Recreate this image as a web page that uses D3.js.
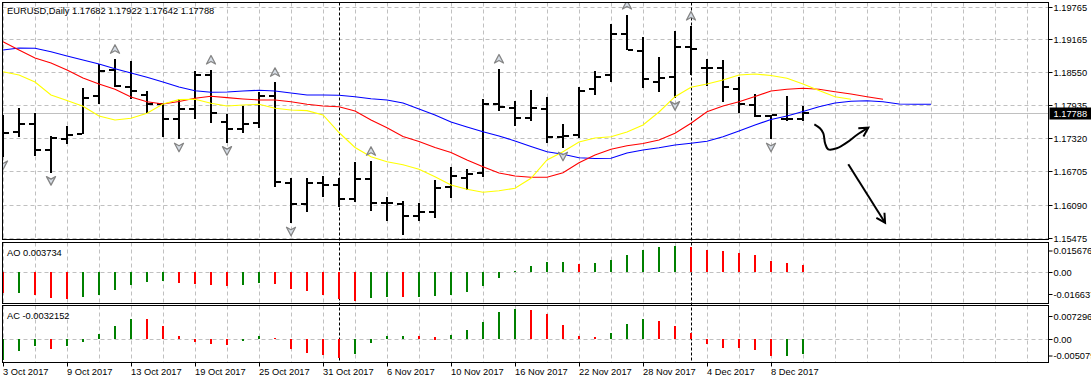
<!DOCTYPE html>
<html><head><meta charset="utf-8">
<script src="https://cdn.jsdelivr.net/npm/d3@7"></script>
<style>body{margin:0;background:#fff;overflow:hidden}svg{display:block}</style>
</head><body>
<svg id="c" width="1091" height="383"></svg>
<script>
// ---------------- DATA ----------------
const symbolTitle = "EURUSD,Daily";
const dates = ["3 Oct 2017","4 Oct 2017","5 Oct 2017","6 Oct 2017","9 Oct 2017","10 Oct 2017","11 Oct 2017","12 Oct 2017","13 Oct 2017","16 Oct 2017",
"17 Oct 2017","18 Oct 2017","19 Oct 2017","20 Oct 2017","23 Oct 2017","24 Oct 2017","25 Oct 2017","26 Oct 2017","27 Oct 2017","30 Oct 2017",
"31 Oct 2017","1 Nov 2017","2 Nov 2017","3 Nov 2017","6 Nov 2017","7 Nov 2017","8 Nov 2017","9 Nov 2017","10 Nov 2017","13 Nov 2017",
"14 Nov 2017","15 Nov 2017","16 Nov 2017","17 Nov 2017","20 Nov 2017","21 Nov 2017","22 Nov 2017","23 Nov 2017","24 Nov 2017","27 Nov 2017",
"28 Nov 2017","29 Nov 2017","30 Nov 2017","1 Dec 2017","4 Dec 2017","5 Dec 2017","6 Dec 2017","7 Dec 2017","8 Dec 2017","11 Dec 2017",
"12 Dec 2017"];
const open = [1.17475,1.17432,1.17580,1.17104,1.17302,1.17406,1.18100,1.18587,1.18278,1.18118,
1.17951,1.17673,1.17870,1.18500,1.17629,1.17499,1.17610,1.18111,1.16492,1.16108,
1.16492,1.16449,1.16200,1.16566,1.16126,1.16097,1.15880,1.15959,1.16418,1.16579,
1.16683,1.17962,1.17888,1.17703,1.17859,1.17350,1.17382,1.18229,1.18500,1.19261,
1.18945,1.18370,1.18463,1.19020,1.18630,1.18630,1.18241,1.17944,1.17729,1.17673,
1.17682];
const high = [1.17753,1.17877,1.17784,1.17363,1.17554,1.18248,1.18693,1.18786,1.18749,1.18203,
1.17981,1.18044,1.18569,1.18587,1.17766,1.17920,1.18174,1.18359,1.16579,1.16579,
1.16622,1.16590,1.16876,1.16894,1.16238,1.16152,1.16115,1.16547,1.16794,1.16751,
1.18050,1.18606,1.18012,1.18216,1.18081,1.17586,1.18267,1.18569,1.19441,1.19607,
1.19194,1.18823,1.19311,1.19403,1.18786,1.18767,1.18463,1.18137,1.17753,1.18111,
1.17922];
const low = [1.16974,1.17350,1.16998,1.16683,1.17209,1.17395,1.17951,1.18267,1.18044,1.17795,
1.17350,1.17302,1.17673,1.17610,1.17239,1.17425,1.17517,1.16412,1.15744,1.15948,
1.16238,1.16052,1.16139,1.15978,1.15793,1.15527,1.15793,1.15848,1.16219,1.16362,
1.16609,1.17833,1.17554,1.17647,1.17228,1.17135,1.17321,1.18124,1.18370,1.18958,
1.18259,1.18174,1.18074,1.18495,1.18291,1.17999,1.17795,1.17710,1.17302,1.17647,
1.17642];
const close = [1.17419,1.17580,1.17104,1.17326,1.17387,1.18074,1.18569,1.18285,1.18203,1.17957,
1.17673,1.17870,1.18495,1.17795,1.17499,1.17592,1.18111,1.16510,1.16108,1.16492,
1.16449,1.16200,1.16566,1.16115,1.16115,1.15880,1.15959,1.16404,1.16627,1.16664,
1.17962,1.17901,1.17703,1.17888,1.17339,1.17363,1.18203,1.18458,1.19261,1.18964,
1.18426,1.18445,1.19020,1.18977,1.18630,1.18267,1.17957,1.17734,1.17747,1.17673,
1.17788];
// Alligator lines (shifted forward beyond the last bar)
const jaw = [1.18958,1.18995,1.18990,1.18927,1.18847,1.18773,1.18699,1.18612,1.18532,1.18452,
1.18365,1.18272,1.18203,1.18174,1.18179,1.18198,1.18211,1.18198,1.18161,1.18124,
1.18124,1.18118,1.18092,1.18055,1.18031,1.17975,1.17864,1.17753,1.17623,1.17530,
1.17443,1.17363,1.17271,1.17169,1.17072,1.17024,1.16961,1.16946,1.16950,1.17048,
1.17104,1.17146,1.17196,1.17228,1.17265,1.17350,1.17456,1.17567,1.17669,1.17734,
1.17818,1.17907,1.17975,1.18007,1.18018,1.17999,1.17957,1.17951,1.17951];
const teeth = [1.19112,1.18958,1.18810,1.18717,1.18587,1.18439,1.18328,1.18229,1.18087,1.17999,
1.17957,1.18003,1.18063,1.18100,1.18074,1.18050,1.18031,1.18031,1.17999,1.17951,
1.17920,1.17907,1.17827,1.17660,1.17517,1.17354,1.17261,1.17150,1.17057,1.16918,
1.16794,1.16677,1.16622,1.16597,1.16597,1.16683,1.16868,1.17011,1.17117,1.17183,
1.17224,1.17289,1.17413,1.17599,1.17814,1.17920,1.17999,1.18096,1.18198,1.18229,
1.18248,1.18229,1.18185,1.18142,1.18092,1.18044];
const lips = [1.18556,1.18495,1.18365,1.18124,1.18022,1.17914,1.17734,1.17660,1.17692,1.17784,
1.17957,1.18037,1.18044,1.17970,1.17920,1.17938,1.17951,1.17877,1.17846,1.17833,
1.17753,1.17428,1.17150,1.16979,1.16887,1.16831,1.16746,1.16609,1.16455,1.16375,
1.16319,1.16349,1.16393,1.16579,1.16918,1.17072,1.17252,1.17326,1.17350,1.17438,
1.17567,1.17808,1.18092,1.18267,1.18328,1.18402,1.18495,1.18513,1.18485,1.18433,
1.18328,1.18207,1.18092,1.18044];
const upFractals = [7,13,17,23,31,39,43];
const downFractals = [0,3,11,14,18,25,35,42,48];
const ao = [-0.01112,-0.01110,-0.01202,-0.01351,-0.01404,-0.01298,-0.01192,-0.00938,-0.00673,-0.00514,
-0.00461,-0.00567,-0.00620,-0.00673,-0.00742,-0.00673,-0.00567,-0.00620,-0.00885,-0.01022,
-0.01202,-0.01414,-0.01520,-0.01377,-0.01330,-0.01335,-0.01320,-0.01255,-0.01202,-0.01044,
-0.00726,-0.00302,0.00037,0.00318,0.00530,0.00535,0.00424,0.00477,0.00636,0.00901,
0.01165,0.01324,0.01377,0.01324,0.01165,0.01112,0.01006,0.00901,0.00583,0.00477,
0.003734];
const aoDir = "rgrrrggggggrrrrggrrrrrrggrggggggggggrggggggrrrrrrrr";
const ac = [-0.00449,-0.00254,-0.00145,-0.00211,-0.00159,-0.00058,0.00109,0.00275,0.00434,0.00430,
0.00275,0.00065,-0.00058,-0.00109,-0.00130,-0.00036,0.00058,0.00022,-0.00211,-0.00304,
-0.00347,-0.00413,-0.00326,-0.00080,0.00058,0.00065,0.00060,0.00055,0.00087,0.00195,
0.00369,0.00586,0.00658,0.00637,0.00543,0.00297,0.00065,0.00043,0.00130,0.00326,
0.00434,0.00391,0.00282,0.00130,-0.00109,-0.00190,-0.00200,-0.00239,-0.00369,-0.00365,
-0.0032152];
const acDir = "gggrgggggrrrrrrggrrrrrggggrrgggggrrrrrgggrrrrrrrrgg";
const priceTicks = ["1.19765","1.19165","1.18550","1.17935","1.17320","1.16705","1.16090","1.15475"];
const aoTicks = ["0.015676","0.00","-0.016637"];
const acTicks = ["0.0072963","0.00","-0.0050795"];
const aoRange = [-0.016637, 0.015676];
const acRange = [-0.0050795, 0.0072963];
const lastPrice = 1.17788;
const aoLabel = "AO 0.003734";
const acLabel = "AC -0.0032152";
// hand-drawn arrows, in (bar index, price)
const annoCurve = [[50.71,1.17580],[51.06,1.17506],[51.27,1.17413],[51.38,1.17228],[51.58,1.17117],[52.11,1.17135],[52.73,1.17239],[53.36,1.17382],[54.08,1.17517]];
const annoLine = [[52.83,1.16838],[55.13,1.15755]];

// ---------------- LAYOUT ----------------
const L = 2.5, R = 1048.5;
const P = {main:[2.5,239.5], ao:[242.5,303.5], ac:[305.5,362.5]};
const FONT = "'Liberation Sans', Arial, sans-serif";
const FS = 9.3;
const GREEN = "#008000", RED = "#ff0000";

const svg = d3.select("#c");
const x = d3.scaleLinear().domain([0, 50]).range([3, 803]);
const y = d3.scaleLinear().domain([1.15475, 1.19765]).range([237.8, 6.5]);
const yAO = d3.scaleLinear().domain(aoRange).range([P.ao[1], P.ao[0]]);
const yAC = d3.scaleLinear().domain(acRange).range([P.ac[1], P.ac[0]]);

const defs = svg.append("defs");
Object.entries(P).forEach(([k,[t,b]]) => {
  defs.append("clipPath").attr("id","clip-"+k).append("rect")
    .attr("x",L).attr("y",t).attr("width",R-L).attr("height",b-t);
});

// grid
const gridIdx = d3.range(0, 66, 2);
Object.entries(P).forEach(([k,[t,b]]) => {
  const g = svg.append("g").attr("clip-path",`url(#clip-${k})`);
  g.selectAll("line.v").data(gridIdx).join("line")
    .attr("x1",d=>Math.round(x(d))+0.5).attr("x2",d=>Math.round(x(d))+0.5)
    .attr("y1",t).attr("y2",b)
    .attr("stroke","#c0c0c0").attr("stroke-dasharray","4,3").attr("stroke-width",1);
});
svg.append("g").selectAll("line").data(priceTicks).join("line")
  .attr("x1",L).attr("x2",R)
  .attr("y1",d=>Math.round(y(+d))+0.5).attr("y2",d=>Math.round(y(+d))+0.5)
  .attr("stroke","#c0c0c0").attr("stroke-dasharray","4,3");
[[yAO,P.ao],[yAC,P.ac]].forEach(([sc]) => {
  svg.append("line").attr("x1",L).attr("x2",R)
    .attr("y1",Math.round(sc(0))+0.5).attr("y2",Math.round(sc(0))+0.5)
    .attr("stroke","#c0c0c0").attr("stroke-dasharray","4,3");
});

// period separators (month changes)
const month = d => d.split(" ")[1];
const seps = dates.map((d,i)=>i).filter(i => i>0 && month(dates[i]) !== month(dates[i-1]));
seps.forEach(i => {
  svg.append("line").attr("x1",Math.round(x(i))+0.5).attr("x2",Math.round(x(i))+0.5)
    .attr("y1",P.main[0]).attr("y2",P.ac[1])
    .attr("stroke","#000").attr("stroke-dasharray","3,2").attr("stroke-width",1);
});

// main panel contents
const gm = svg.append("g").attr("clip-path","url(#clip-main)");
gm.append("line").attr("x1",L).attr("x2",R)
  .attr("y1",Math.round(y(lastPrice))+0.5).attr("y2",Math.round(y(lastPrice))+0.5)
  .attr("stroke","#c0c0c0");

// OHLC bars
const gb = gm.append("g").attr("fill","#000").attr("shape-rendering","crispEdges");
d3.range(open.length).forEach(i => {
  const xi = Math.round(x(i));
  const yh = Math.round(y(high[i])), yl = Math.round(y(low[i]));
  gb.append("rect").attr("x",xi-1).attr("y",yh).attr("width",2).attr("height",Math.max(1,yl-yh));
  gb.append("rect").attr("x",xi-6).attr("y",Math.round(y(open[i]))-1).attr("width",5).attr("height",2);
  gb.append("rect").attr("x",xi+1).attr("y",Math.round(y(close[i]))-1).attr("width",5).attr("height",2);
});

// alligator
const line = d3.line().x((d,i)=>x(i)).y(d=>y(d));
[[jaw,"#0000ff"],[teeth,"#ff0000"],[lips,"#ffff00"]].forEach(([arr,c]) => {
  gm.append("path").attr("d",line(arr)).attr("fill","none").attr("stroke",c).attr("stroke-width",1.1);
});

// fractals (outlined arrowheads)
const upShape = "M0,-4.5 L4.5,4 L0,1.5 L-4.5,4 Z";
const dnShape = "M0,4.5 L4.5,-4 L0,-1.5 L-4.5,-4 Z";
gm.selectAll("path.fu").data(upFractals).join("path")
  .attr("d",upShape).attr("transform",i=>`translate(${x(i)},${y(high[i])-10})`)
  .attr("fill","#d6dde6").attr("stroke","#858585").attr("stroke-width",1.3).attr("stroke-linejoin","round");
gm.selectAll("path.fd").data(downFractals).join("path")
  .attr("d",dnShape).attr("transform",i=>`translate(${x(i)},${y(low[i])+8})`)
  .attr("fill","#d6dde6").attr("stroke","#858585").attr("stroke-width",1.3).attr("stroke-linejoin","round");

// annotations
function arrowHead(g, pts){
  const n = pts.length; const [x2,y2] = pts[n-1], [x1,y1] = pts[n-2];
  const a = Math.atan2(y2-y1, x2-x1), len = 10, sp = 0.5;
  const p = [[x2-len*Math.cos(a-sp), y2-len*Math.sin(a-sp)],[x2,y2],[x2-len*Math.cos(a+sp), y2-len*Math.sin(a+sp)]];
  g.append("path").attr("d", d3.line()(p)).attr("fill","none").attr("stroke","#000").attr("stroke-width",2);
}
const ga = svg.append("g").attr("clip-path","url(#clip-main)");
const cpts = annoCurve.map(([i,p])=>[x(i),y(p)]);
ga.append("path").attr("d",d3.line().curve(d3.curveCatmullRom)(cpts)).attr("fill","none").attr("stroke","#000").attr("stroke-width",2);
arrowHead(ga, cpts);
const lpts = annoLine.map(([i,p])=>[x(i),y(p)]);
ga.append("path").attr("d",d3.line()(lpts)).attr("fill","none").attr("stroke","#000").attr("stroke-width",2);
arrowHead(ga, lpts);

// AO / AC histograms
function hist(key, arr, dir, sc){
  svg.append("g").attr("clip-path",`url(#clip-${key})`).attr("shape-rendering","crispEdges")
    .selectAll("rect").data(arr).join("rect")
    .attr("x",(d,i)=>Math.round(x(i))-1).attr("width",2)
    .attr("y",d=>Math.round(Math.min(sc(0),sc(d))))
    .attr("height",d=>Math.max(1,Math.round(Math.abs(sc(d)-sc(0)))))
    .attr("fill",(d,i)=>dir[i]==="g"?GREEN:RED);
}
hist("ao", ao, aoDir, yAO);
hist("ac", ac, acDir, yAC);

// borders
Object.values(P).forEach(([t,b]) => {
  svg.append("rect").attr("x",L).attr("y",t).attr("width",R-L).attr("height",b-t)
    .attr("fill","none").attr("stroke","#000").attr("stroke-width",1);
});

// right axis
const ax = svg.append("g").attr("font-family",FONT).attr("font-size",FS).attr("fill","#000");
priceTicks.forEach(t => {
  const yy = Math.round(y(+t))+0.5;
  ax.append("line").attr("x1",R).attr("x2",R+4).attr("y1",yy).attr("y2",yy).attr("stroke","#000");
  ax.append("text").attr("x",R+5).attr("y",yy+3.4).text(t);
});
const aoPos = [P.ao[0]+8.5, Math.round(yAO(0))+0.5, P.ao[1]-9];
aoTicks.forEach((t,k) => {
  ax.append("line").attr("x1",R).attr("x2",R+4).attr("y1",aoPos[k]).attr("y2",aoPos[k]).attr("stroke","#000");
  ax.append("text").attr("x",R+5).attr("y",aoPos[k]+3.4).text(t);
});
const acPos = [P.ac[0]+11, Math.round(yAC(0))+0.5, P.ac[1]-6.5];
acTicks.forEach((t,k) => {
  ax.append("line").attr("x1",R).attr("x2",R+4).attr("y1",acPos[k]).attr("y2",acPos[k]).attr("stroke","#000");
  ax.append("text").attr("x",R+5).attr("y",acPos[k]+3.4).text(t);
});
// last price marker
const ly = Math.round(y(lastPrice))+0.5;
ax.append("rect").attr("x",R+1).attr("y",ly-6).attr("width",45).attr("height",12).attr("fill","#000");
ax.append("text").attr("x",R+5).attr("y",ly+3.4).attr("fill","#fff").text(lastPrice.toFixed(5));

// time axis
const tickIdx = d3.range(0, dates.length, 4);
tickIdx.forEach(i => {
  const xi = Math.round(x(i))+0.5;
  ax.append("line").attr("x1",xi).attr("x2",xi).attr("y1",P.ac[1]).attr("y2",P.ac[1]+4).attr("stroke","#000");
  ax.append("text").attr("x",xi-0.5).attr("y",375).text(dates[i]);
});

// headers
const ohlc = [open, high, low, close].map(a => a[a.length-1].toFixed(5)).join(" ");
ax.append("text").attr("x",7).attr("y",14).text(symbolTitle + "  " + ohlc);
ax.append("text").attr("x",7).attr("y",256).text(aoLabel);
ax.append("text").attr("x",7).attr("y",318.5).text(acLabel);
</script>
</body></html>
